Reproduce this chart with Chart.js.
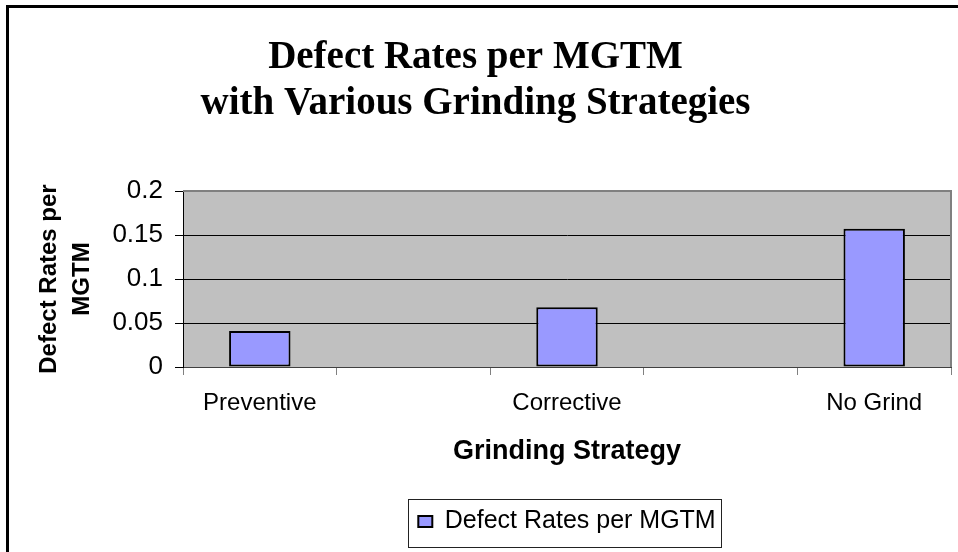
<!DOCTYPE html>
<html>
<head>
<meta charset="utf-8">
<script src="https://cdn.jsdelivr.net/npm/chart.js@4.4.0/dist/chart.umd.min.js"></script>
<style>
  html, body { margin: 0; padding: 0; background: #fff; }
  #wrap { position: relative; width: 958px; height: 552px; overflow: hidden; }
  #frame { position: absolute; left: 6px; top: 5px; width: 970px; height: 570px; border-left: 3px solid #000; border-top: 3px solid #000; pointer-events: none; }
</style>
</head>
<body>
<div id="wrap">
  <canvas id="chart" width="958" height="552"></canvas>
  <div id="frame"></div>
</div>
<script>
// data (blank categories sit between the bars)
const categories = ["Preventive", "", "Corrective", "", "No Grind"];
const defectRates = [0.041, null, 0.068, null, 0.157];
const yTickValues = [0, 0.05, 0.1, 0.15, 0.2];
const yTickLabels = ["0", "0.05", "0.1", "0.15", "0.2"];
const seriesName = "Defect Rates per MGTM";
const chartTitle = ["Defect Rates per MGTM", "with Various Grinding Strategies"];
const xTitle = "Grinding Strategy";
const yTitle = ["Defect Rates per", "MGTM"];

Chart.defaults.color = "#000";
Chart.defaults.font.family = "'Liberation Sans', Arial, sans-serif";

// grey plot background plus grey top/right edges
const plotArea = {
  id: "plotArea",
  beforeDraw(chart) {
    const { ctx, chartArea: a } = chart;
    ctx.save();
    ctx.fillStyle = "#c0c0c0";
    ctx.fillRect(a.left, a.top, a.width, a.height);
    ctx.restore();
  },
  beforeDatasetsDraw(chart) {
    const { ctx, chartArea: a } = chart;
    ctx.save();
    ctx.strokeStyle = "#808080";
    ctx.lineWidth = 2;
    ctx.beginPath();
    ctx.moveTo(a.left, a.top);
    ctx.lineTo(a.right, a.top);
    ctx.lineTo(a.right, a.bottom);
    ctx.stroke();
    ctx.restore();
  }
};

// frame around the legend like the Excel one
const legendFrame = {
  id: "legendFrame",
  afterDraw(chart) {
    const hb = chart.legend.legendHitBoxes[0];
    if (!hb) return;
    const ctx = chart.ctx;
    ctx.save();
    ctx.strokeStyle = "#222";
    ctx.lineWidth = 1;
    ctx.strokeRect(Math.round(hb.left - 10) + 0.5, Math.round(hb.top - 10) + 0.5, Math.round(hb.width + 16), 48);
    ctx.restore();
  }
};

new Chart(document.getElementById("chart"), {
  type: "bar",
  data: {
    labels: categories,
    datasets: [{
      label: seriesName,
      data: defectRates,
      backgroundColor: "#9999ff",
      borderColor: "#000",
      borderWidth: 2,
      borderSkipped: false,
      barPercentage: 0.4,
      categoryPercentage: 1
    }]
  },
  options: {
    responsive: false,
    animation: false,
    layout: { padding: { left: 0, right: 7, top: 0, bottom: 8 } },
    plugins: {
      title: {
        display: true,
        text: chartTitle,
        font: { family: "'Liberation Serif', 'Times New Roman', serif", size: 39, weight: "bold", lineHeight: 1.18 },
        padding: { top: 35, bottom: 64 }
      },
      legend: {
        position: "bottom",
        fullSize: false,
        labels: {
          boxWidth: 14,
          boxHeight: 11,
          padding: 10,
          font: { size: 25 }
        }
      },
      tooltip: { enabled: false }
    },
    scales: {
      x: {
        grid: {
          offset: true,
          drawOnChartArea: false,
          tickLength: 8,
          tickColor: "#808080"
        },
        border: { color: "#404040", width: 1 },
        ticks: { font: { size: 24 }, padding: 14, maxRotation: 0, autoSkip: false },
        title: {
          display: true,
          text: xTitle,
          font: { size: 27, weight: "bold" },
          padding: { top: 16, bottom: 31 }
        },
        afterFit(scale) { scale.height = 132; }
      },
      y: {
        min: 0,
        max: 0.2,
        grid: {
          color: (c) => (c.tick && c.tick.value === 0.2 ? "#808080" : "#000"),
          tickColor: "#000",
          tickLength: 8
        },
        border: { color: "#000", width: 1 },
        afterBuildTicks(scale) {
          scale.ticks = yTickValues.map((v) => ({ value: v }));
        },
        ticks: {
          font: { size: 26 },
          padding: 12,
          callback: (value, index) => yTickLabels[index]
        },
        title: {
          display: true,
          text: yTitle,
          font: { size: 24, weight: "bold", lineHeight: 1.375 },
          padding: { top: 33, bottom: 0 }
        },
        afterFit(scale) { scale.width = 183; }
      }
    }
  },
  plugins: [plotArea, legendFrame]
});
</script>
</body>
</html>
